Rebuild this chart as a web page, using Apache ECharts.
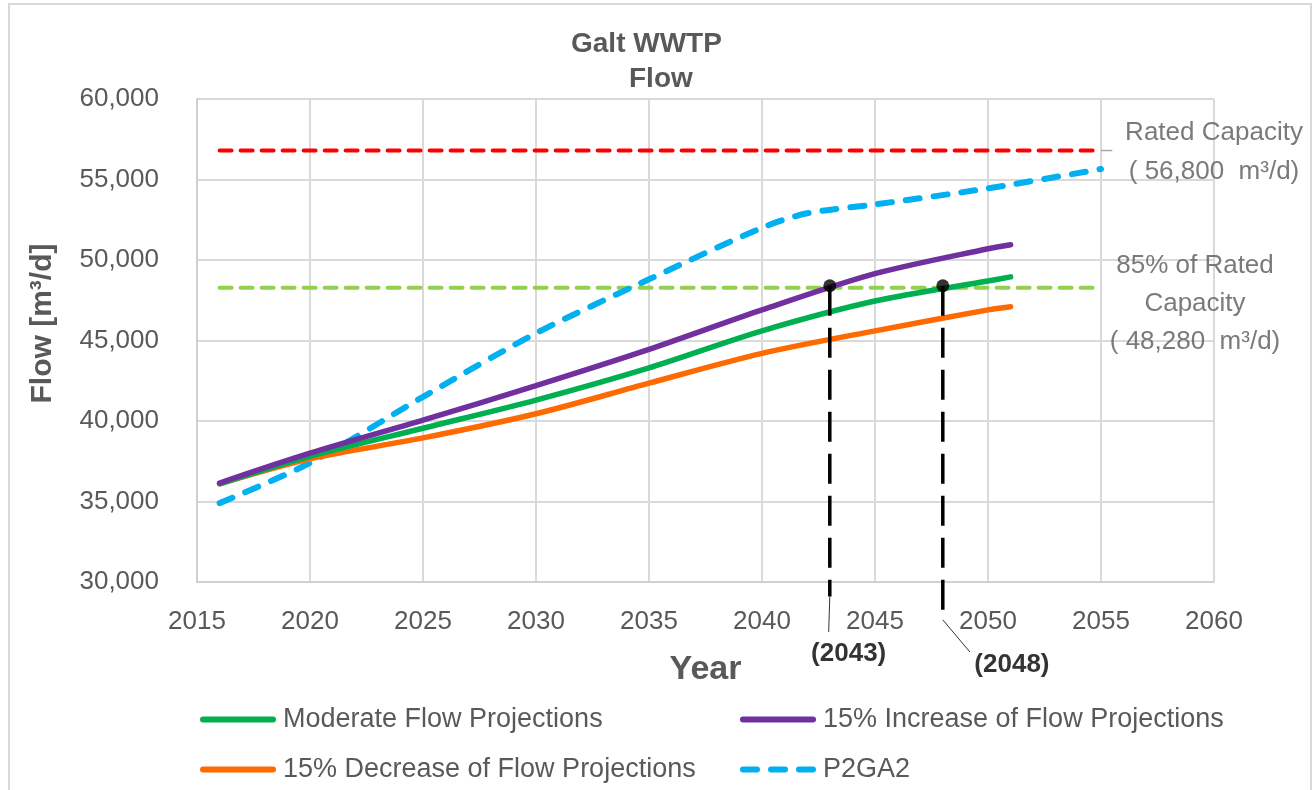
<!DOCTYPE html>
<html>
<head>
<meta charset="utf-8">
<title>Galt WWTP Flow</title>
<script src="https://cdn.jsdelivr.net/npm/echarts@6/dist/echarts.min.js"></script>
<style>
    html, body { margin: 0; padding: 0; background: #fff; }
    #frame {
        position: absolute;
        left: 8px; top: 3px;
        width: 1300px; height: 820px;
        border: 2px solid #d9d9d9;
    }
    #chart { position: absolute; left: 0; top: 0; width: 1316px; height: 790px; }
</style>
</head>
<body>
<div id="frame"></div>
<div id="chart"></div>
<script>
    // projection years and flows (m3/d)
    const years = [2016, 2020, 2025, 2030, 2035, 2040, 2045, 2050, 2051];
    const moderate = [36100, 37800, 39550, 41300, 43300, 45600, 47450, 48700, 48950];
    const increase15 = [36150, 38000, 40050, 42200, 44450, 46900, 49150, 50700, 50950];
    const decrease15 = [36100, 37650, 38950, 40450, 42350, 44200, 45600, 46900, 47100];

    const p2gaYears = [2016, 2020, 2025, 2030, 2035, 2040, 2042, 2045, 2050, 2055];
    const p2ga2 = [34900, 37400, 41500, 45450, 48800, 52000, 52900, 53450, 54450, 55650];

    // capacity lines
    const capYears = [2016, 2055];
    const ratedCapacity = 56800;
    const capacity85 = 48280;

    // year the 85% line is reached, with the drop line down to the label
    const crossYears = [2043, 2048];
    const crossFlow = 48400;
    const dropEnd = [29100, 27650];
    const leaderEnd = [[2042.95, 26900], [2049.2, 25650]];
    const crossLabels = ['(2043)', '(2048)'];

    const names = ['Moderate Flow Projections', '15% Increase of Flow Projections',
                   '15% Decrease of Flow Projections', 'P2GA2'];

    const font = "'Liberation Sans', Arial, sans-serif";
    const grey = '#595959';

    const pairs = (xs, ys) => xs.map((x, i) => [x, ys[i]]);

    let myChart = echarts.init(document.getElementById('chart'));

    const dropSeries = [];
    crossYears.forEach((yr, i) => {
        dropSeries.push({
            type: 'line', clip: false, symbol: 'none', silent: true, z: 5,
            lineStyle: { color: '#000', width: 3.5, type: [30, 12] },
            data: [[yr, crossFlow], [yr, dropEnd[i]]]
        });
        dropSeries.push({
            type: 'line', clip: false, symbol: 'none', silent: true, z: 5,
            lineStyle: { color: '#333', width: 1 },
            data: [[yr, dropEnd[i]], leaderEnd[i]]
        });
    });

    const labelOffsets = [[20, 22], [42, 13]];

    const legendBase = {
        top: 703, orient: 'vertical', padding: 0,
        itemWidth: 70, itemHeight: 8, itemGap: 17,
        itemStyle: { opacity: 0 },
        lineStyle: { width: 6, cap: 'round' },
        textStyle: { fontFamily: font, fontSize: 27, lineHeight: 33, color: grey, padding: [0, 0, 0, 5] }
    };

    myChart.setOption({
        animation: false,
        title: [
            { text: 'Galt WWTP', left: 571, top: 30, padding: 0,
              textStyle: { fontFamily: font, fontWeight: 'bold', fontSize: 28, color: grey } },
            { text: 'Flow', left: 629, top: 65, padding: 0,
              textStyle: { fontFamily: font, fontWeight: 'bold', fontSize: 28, color: grey } }
        ],
        grid: { left: 197, right: 102, top: 99, bottom: 208 },
        legend: [
            Object.assign({}, legendBase, { left: 200, data: [names[0], names[2]] }),
            Object.assign({}, legendBase, { left: 740, data: [names[1], names[3]] })
        ],
        xAxis: {
            type: 'value', min: 2015, max: 2060, interval: 5,
            name: 'Year', nameLocation: 'middle', nameGap: 71,
            nameTextStyle: { fontFamily: font, fontWeight: 'bold', fontSize: 34, color: grey },
            axisLine: { lineStyle: { color: '#d0d0d0', width: 2 } },
            axisTick: { show: false },
            axisLabel: { fontFamily: font, fontSize: 26, color: grey, margin: 27,
                         formatter: v => String(v) },
            splitLine: { show: true, lineStyle: { color: '#d9d9d9', width: 2 } }
        },
        yAxis: {
            type: 'value', min: 30000, max: 60000, interval: 5000,
            name: 'Flow [m³/d]', nameLocation: 'middle', nameGap: 139,
            nameTextStyle: { fontFamily: font, fontWeight: 'bold',
                             fontSize: 30, color: grey, padding: [0, 0, 0, 34] },
            axisLine: { show: true, lineStyle: { color: '#d0d0d0', width: 2 } },
            axisTick: { show: false },
            axisLabel: { fontFamily: font, fontSize: 26, color: grey, margin: 38 },
            splitLine: { show: true, lineStyle: { color: '#d9d9d9', width: 2 } }
        },
        series: [
            {
                type: 'line', symbol: 'none', silent: true,
                lineStyle: { color: '#ff0000', width: 4, type: [12, 9], cap: 'round' },
                data: pairs(capYears, [ratedCapacity, ratedCapacity])
            },
            {
                type: 'line', symbol: 'none', silent: true, clip: false,
                lineStyle: { color: '#a6a6a6', width: 1.5 },
                data: [[capYears[1], ratedCapacity], [capYears[1] + 0.5, ratedCapacity]]
            },
            {
                type: 'line', symbol: 'none', silent: true,
                lineStyle: { color: '#92d050', width: 4, type: [12, 9], cap: 'round' },
                data: pairs(capYears, [capacity85, capacity85])
            },
            {
                name: names[3], type: 'line', symbol: 'none', smooth: 0.3,
                color: '#00b0f0',
                lineStyle: { color: '#00b0f0', width: 6, type: [14, 14], cap: 'round' },
                data: pairs(p2gaYears, p2ga2)
            },
            {
                name: names[2], type: 'line', symbol: 'none', smooth: 0.3,
                color: '#ff6a00',
                lineStyle: { color: '#ff6a00', width: 5.5, cap: 'round' },
                data: pairs(years, decrease15)
            },
            {
                name: names[0], type: 'line', symbol: 'none', smooth: 0.3,
                color: '#00b050',
                lineStyle: { color: '#00b050', width: 5.5, cap: 'round' },
                data: pairs(years, moderate)
            },
            {
                name: names[1], type: 'line', symbol: 'none', smooth: 0.3,
                color: '#7030a0',
                lineStyle: { color: '#7030a0', width: 5.5, cap: 'round' },
                data: pairs(years, increase15)
            },
            ...dropSeries,
            {
                type: 'scatter', symbol: 'circle', symbolSize: 13, z: 6, silent: true,
                itemStyle: { color: '#000' },
                data: crossYears.map(yr => [yr, crossFlow])
            },
            {
                type: 'scatter', symbolSize: 1, clip: false, silent: true, z: 6,
                itemStyle: { color: 'rgba(0,0,0,0)' },
                label: {
                    show: true, position: 'inside',
                    fontFamily: font, fontWeight: 'bold', fontSize: 26, color: '#000',
                    formatter: p => crossLabels[p.dataIndex]
                },
                data: leaderEnd.map((pt, i) => ({
                    value: pt, label: { offset: labelOffsets[i] }
                }))
            },
            {
                type: 'scatter', symbolSize: 1, clip: false, silent: true, z: 6,
                itemStyle: { color: 'rgba(0,0,0,0)' },
                label: {
                    show: true, position: 'inside', align: 'center',
                    fontFamily: font, fontSize: 26, color: grey
                },
                data: [
                    { value: [capYears[1], ratedCapacity],
                      label: { offset: [113, 2], lineHeight: 39,
                               formatter: 'Rated Capacity\n( 56,800  m³/d)' } },
                    { value: [capYears[1], capacity85],
                      label: { offset: [94, 16], lineHeight: 38,
                               formatter: '85% of Rated\nCapacity\n( 48,280  m³/d)' } }
                ]
            }
        ]
    });
</script>
</body>
</html>
